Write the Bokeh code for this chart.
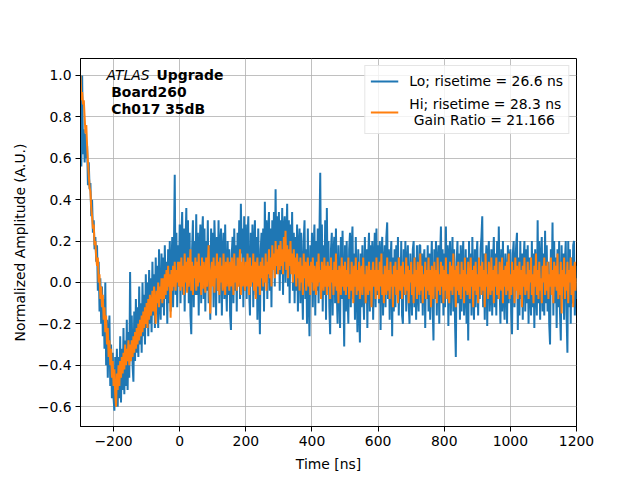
import numpy as np
from bokeh.plotting import figure
from bokeh.models import (Legend, LegendItem, Label, CustomJSTickFormatter,
                          FixedTicker, Range1d)
from bokeh.embed import file_html
from bokeh.resources import INLINE

# sampling grid of the waveform (ns)
T0 = -300.0
STEP = 2.5

# Lo-gain pulse, normalized amplitude, 50 ns per row
lo = [
    0.75, 0.56, 1.00, 0.62, 0.74, 0.58, 0.72, 0.60, 0.66, 0.47, 0.58, 0.45, 0.48, 0.32, 0.40, 0.24, 0.30, 0.16, 0.22, 0.10,
    0.18, -0.04, 0.10, -0.14, 0.02, -0.20, -0.02, -0.26, -0.08, -0.32, 0.00, -0.40, -0.18, -0.46, -0.24, -0.16, -0.50, -0.30, -0.56, -0.34,
    -0.56, -0.62, -0.36, -0.60, -0.32, -0.60, -0.36, -0.56, -0.26, -0.58, -0.32, -0.52, -0.22, -0.54, -0.28, -0.50, -0.18, -0.52, -0.24, -0.46,
    0.05, -0.36, -0.16, -0.40, -0.48, -0.14, -0.38, -0.08, -0.34, -0.12, -0.36, -0.02, -0.30, -0.10, -0.34, 0.00, -0.26, -0.06, -0.30, 0.04,
    -0.22, 0.00, -0.26, 0.06, -0.20, 0.02, -0.24, 0.10, -0.16, 0.04, -0.22, 0.12, -0.14, 0.08, -0.22, 0.16, -0.10, -0.18, 0.14, -0.12,
    0.12, -0.16, 0.18, -0.08, 0.10, -0.20, 0.16, -0.10, 0.20, -0.14, 0.08, 0.22, -0.12, 0.16, 0.52, -0.06, 0.24, -0.12, 0.18, -0.02,
    0.28, -0.10, 0.22, 0.34, -0.06, 0.26, -0.14, 0.18, 0.36, -0.04, 0.30, -0.10, 0.24, -0.16, -0.25, 0.16, 0.30, -0.12, 0.20, -0.06,
    0.33, -0.06, 0.24, -0.16, 0.16, 0.28, -0.10, 0.22, 0.32, -0.08, 0.26, -0.14, 0.20, -0.04, 0.30, -0.10, 0.18, -0.18, 0.26, 0.00,
    0.24, -0.12, 0.30, 0.14, -0.16, 0.22, -0.04, 0.30, -0.10, 0.18, 0.26, -0.16, 0.14, 0.24, -0.08, 0.28, 0.00, -0.14, 0.20, -0.06,
    0.16, -0.16, -0.23, 0.14, 0.22, -0.10, 0.26, -0.04, 0.18, -0.14, 0.24, 0.00, 0.30, -0.08, 0.38, 0.14, 0.26, -0.12, 0.32, -0.04,
    0.28, -0.08, 0.20, 0.32, -0.04, -0.16, 0.24, 0.02, 0.28, -0.12, 0.18, 0.30, -0.06, 0.22, -0.18, 0.26, 0.00, -0.25, 0.16, 0.24,
    -0.04, 0.26, -0.14, 0.39, 0.02, 0.30, -0.08, 0.24, 0.34, -0.04, 0.26, -0.12, 0.30, 0.06, 0.34, -0.02, 0.45, 0.04, 0.32, 0.08,
    0.34, -0.04, 0.30, 0.04, 0.36, -0.06, 0.26, 0.32, 0.00, 0.22, 0.38, -0.02, 0.30, -0.10, 0.28, 0.06, 0.34, -0.04, 0.24, -0.10,
    0.22, -0.04, 0.28, -0.14, 0.18, 0.26, -0.10, 0.24, 0.02, -0.18, 0.20, 0.30, -0.08, 0.16, -0.20, 0.26, -0.06, -0.26, 0.18, 0.00,
    0.24, -0.12, 0.16, 0.28, -0.16, 0.20, -0.04, 0.26, -0.10, 0.22, 0.53, 0.00, 0.28, -0.14, 0.18, -0.06, 0.30, -0.18, 0.36, -0.02,
    0.20, -0.12, -0.25, 0.16, 0.24, -0.16, 0.14, 0.22, -0.10, 0.26, -0.04, -0.20, 0.18, 0.00, -0.22, 0.22, -0.08, 0.25, -0.02, -0.31,
    0.18, -0.14, 0.20, -0.06, -0.20, 0.16, 0.24, -0.12, 0.18, 0.27, -0.08, 0.14, -0.18, 0.22, -0.02, -0.24, 0.16, -0.10, -0.29, 0.14,
    -0.12, 0.18, -0.04, -0.18, 0.22, -0.10, 0.16, -0.22, 0.12, 0.24, -0.14, 0.18, -0.08, 0.20, -0.18, 0.10, 0.24, -0.12, 0.26, -0.06,
    0.18, -0.10, 0.20, -0.23, 0.12, 0.22, -0.16, 0.08, 0.18, -0.12, 0.22, 0.29, -0.08, 0.16, -0.18, 0.10, 0.20, -0.26, 0.12, -0.14,
    0.16, -0.12, 0.18, -0.04, 0.22, -0.16, 0.12, -0.08, 0.20, -0.16, -0.20, 0.16, -0.06, 0.20, -0.14, 0.10, 0.18, -0.10, -0.20, 0.14,
    -0.02, -0.16, 0.16, 0.20, -0.12, 0.12, -0.18, 0.18, -0.04, -0.14, 0.18, 0.18, -0.10, 0.14, -0.16, 0.10, 0.16, -0.22, 0.12, -0.08,
    0.18, -0.14, 0.14, -0.18, 0.08, 0.20, -0.12, -0.28, 0.16, -0.08, 0.20, -0.16, 0.10, 0.18, -0.20, 0.12, 0.27, -0.10, 0.16, -0.16,
    0.14, -0.12, 0.27, -0.04, 0.18, -0.21, 0.12, 0.20, -0.16, 0.08, 0.22, -0.14, 0.16, -0.18, -0.36, 0.10, 0.20, -0.10, 0.14, -0.18,
    0.18, -0.14, 0.10, 0.20, -0.16, -0.04, 0.16, -0.20, 0.12, -0.28, 0.20, -0.10, 0.14, -0.16, 0.22, -0.02, -0.18, 0.16, -0.12, 0.12,
    0.20, -0.16, 0.10, -0.08, 0.16, 0.22, 0.32, -0.12, 0.14, -0.18, 0.06, 0.18, -0.21, 0.12, 0.20, -0.14, -0.04, 0.16, -0.16, 0.10,
    0.22, -0.12, 0.14, -0.16, 0.20, -0.08, 0.27, -0.02, -0.20, 0.16, -0.14, 0.20, -0.06, -0.18, 0.14, 0.02, -0.20, 0.18, -0.10, 0.12,
    0.16, -0.14, -0.25, 0.14, 0.20, -0.12, 0.08, 0.18, 0.24, -0.23, 0.12, -0.16, 0.20, -0.08, 0.14, -0.18, 0.10, 0.20, -0.14, 0.16,
    -0.10, 0.18, -0.20, 0.12, -0.04, -0.16, 0.20, -0.12, 0.14, -0.22, 0.16, -0.02, -0.16, 0.30, -0.10, 0.20, -0.18, 0.10, 0.22, -0.14,
    0.14, -0.16, 0.25, -0.10, 0.18, -0.14, 0.10, -0.20, -0.30, 0.16, -0.02, 0.29, -0.16, 0.20, -0.10, 0.12, -0.22, 0.16, -0.12, 0.20,
    -0.14, -0.28, 0.18, -0.08, 0.14, -0.18, 0.10, 0.20, -0.16, -0.34, 0.20, -0.12, 0.16, -0.20, 0.12, -0.10, 0.18, 0.20, -0.16, 0.08,
    -0.08,
]

# Hi-gain pulse, normalized amplitude, 50 ns per row
hi = [
    1.00, 0.88, 0.92, 0.86, 0.88, 0.80, 0.72, 0.76, 0.66, 0.58, 0.52, 0.46, 0.44, 0.36, 0.32, 0.26, 0.28, 0.18, 0.20, 0.12,
    0.08, 0.12, 0.00, 0.04, -0.08, -0.02, -0.12, -0.06, -0.18, -0.12, -0.24, -0.16, -0.30, -0.22, -0.36, -0.28, -0.40, -0.32, -0.46, -0.38,
    -0.50, -0.42, -0.54, -0.60, -0.44, -0.52, -0.40, -0.50, -0.38, -0.46, -0.36, -0.44, -0.34, -0.42, -0.30, -0.40, -0.32, -0.38, -0.28, -0.40,
    -0.30, -0.38, -0.28, -0.36, -0.26, -0.34, -0.24, -0.32, -0.22, -0.30, -0.20, -0.28, -0.18, -0.26, -0.16, -0.24, -0.14, -0.22, -0.12, -0.20,
    -0.10, -0.22, -0.08, -0.18, -0.06, -0.16, -0.12, -0.04, -0.14, -0.02, -0.12, -0.20, -0.04, -0.10, 0.00, -0.12, -0.02, -0.08, 0.02, -0.10,
    0.02, -0.08, 0.04, -0.06, 0.06, -0.04, 0.08, -0.02, 0.04, -0.17, 0.06, -0.04, 0.08, -0.02, 0.10, -0.04, 0.06, 0.00, 0.10, -0.02,
    0.10, -0.04, 0.12, -0.02, 0.08, -0.06, 0.14, 0.00, 0.10, -0.05, 0.12, -0.02, 0.06, 0.16, -0.04, 0.10, -0.06, 0.08, 0.02, 0.12,
    -0.04, 0.10, -0.02, 0.14, 0.00, 0.08, -0.06, 0.12, -0.03, 0.10, 0.04, -0.05, 0.12, -0.02, 0.08, 0.18, -0.04, -0.15, 0.06, 0.10,
    -0.02, 0.12, -0.05, 0.08, 0.02, 0.14, -0.04, 0.10, -0.06, 0.12, 0.00, 0.08, -0.04, 0.14, 0.02, -0.06, 0.10, -0.02, 0.12, 0.04,
    -0.04, 0.10, -0.02, 0.12, 0.04, -0.06, 0.14, 0.00, 0.08, -0.04, 0.12, -0.02, 0.06, 0.16, -0.06, 0.10, -0.02, 0.12, 0.02, -0.04,
    0.10, -0.02, 0.14, 0.04, -0.06, 0.12, -0.02, 0.08, 0.00, 0.14, -0.04, 0.10, -0.08, 0.06, 0.12, -0.02, 0.08, -0.06, 0.10, 0.02,
    0.12, -0.02, 0.08, 0.00, 0.14, -0.04, 0.10, 0.04, 0.16, 0.02, 0.12, -0.02, 0.18, 0.06, 0.14, 0.02, 0.20, 0.08, 0.16, 0.04,
    0.18, 0.06, 0.20, 0.08, 0.16, 0.04, 0.22, 0.10, 0.25, 0.06, 0.18, 0.02, 0.16, 0.08, 0.20, 0.04, 0.14, 0.00, 0.16, 0.04,
    0.12, -0.02, 0.14, 0.02, 0.10, -0.04, 0.12, 0.00, 0.08, -0.06, 0.14, 0.02, 0.10, -0.04, 0.06, 0.12, -0.02, 0.08, -0.06, 0.10,
    0.00, 0.12, -0.04, 0.08, 0.02, -0.06, 0.10, -0.02, 0.14, 0.00, 0.06, -0.08, 0.10, 0.02, -0.04, 0.12, -0.02, 0.08, -0.06, 0.10,
    -0.02, 0.08, -0.08, 0.12, 0.00, 0.06, -0.06, 0.10, -0.02, 0.14, -0.04, 0.06, -0.10, 0.08, 0.02, -0.06, 0.12, -0.02, 0.08, -0.04,
    0.10, -0.06, 0.06, -0.02, 0.12, -0.08, 0.04, -0.04, 0.10, 0.00, -0.10, 0.08, -0.02, 0.12, -0.06, 0.06, -0.04, 0.10, -0.08, 0.04,
    0.08, -0.06, 0.12, -0.02, 0.04, -0.10, 0.08, 0.00, -0.06, 0.10, -0.04, 0.06, -0.12, 0.04, 0.10, -0.02, 0.06, -0.08, 0.12, -0.04,
    0.06, -0.08, 0.10, -0.02, 0.14, -0.06, 0.04, -0.10, 0.08, 0.00, -0.06, 0.12, -0.04, 0.06, -0.08, 0.10, -0.02, 0.04, -0.12, 0.08,
    -0.02, 0.10, -0.06, 0.06, -0.10, 0.12, 0.00, -0.04, 0.08, -0.08, 0.10, -0.02, 0.04, -0.06, 0.12, -0.04, 0.08, -0.10, 0.06, 0.00,
    0.10, -0.06, 0.04, -0.10, 0.12, -0.02, 0.06, -0.08, 0.10, 0.00, -0.06, 0.14, -0.04, 0.08, -0.10, 0.04, -0.02, 0.10, -0.08, 0.06,
    -0.04, 0.12, -0.06, 0.06, -0.12, 0.08, 0.00, -0.08, 0.10, -0.02, 0.06, -0.10, 0.12, -0.04, 0.04, -0.06, 0.10, -0.02, 0.08, -0.10,
    0.06, -0.04, 0.12, -0.08, 0.04, 0.00, -0.10, 0.10, -0.04, 0.08, -0.06, 0.14, -0.02, 0.06, -0.12, 0.08, -0.04, 0.10, -0.06, 0.04,
    -0.08, 0.10, -0.02, 0.06, -0.10, 0.12, -0.04, 0.04, -0.06, 0.10, 0.00, -0.08, 0.12, -0.02, 0.06, -0.12, 0.08, -0.04, 0.10, -0.06,
    0.04, -0.10, 0.12, -0.02, 0.08, -0.06, 0.10, -0.04, 0.06, -0.12, 0.14, -0.02, 0.04, -0.08, 0.10, 0.00, -0.06, 0.12, -0.04, 0.06,
    -0.10, 0.08, -0.02, 0.12, -0.06, 0.04, -0.08, 0.10, 0.00, -0.04, 0.12, -0.10, 0.06, -0.02, 0.08, -0.06, 0.10, -0.04, 0.14, -0.08,
    0.04, -0.06, 0.10, -0.02, 0.06, -0.10, 0.12, -0.04, 0.08, -0.08, 0.02, 0.10, -0.06, 0.06, -0.12, 0.08, -0.02, 0.12, -0.06, 0.04,
    -0.04, 0.10, -0.08, 0.06, 0.00, 0.12, -0.06, 0.04, -0.10, 0.08, -0.02, 0.14, -0.06, 0.06, -0.08, 0.10, -0.04, 0.02, -0.10, 0.08,
    0.00, 0.12, -0.06, 0.08, -0.04, 0.10, -0.08, 0.04, -0.02, 0.12, -0.06, 0.06, -0.10, 0.10, -0.02, 0.08, -0.04, 0.14, -0.08, 0.04,
    -0.06, 0.10, -0.15, 0.06, -0.02, 0.12, -0.08, 0.04, -0.04, 0.10, -0.10, 0.06, 0.00, 0.12, -0.06, 0.08, -0.12, 0.04, 0.10, -0.04,
    0.02,
]

x_ticks = [-200, 0, 200, 400, 600, 800, 1000, 1200]
y_ticks = [-0.6, -0.4, -0.2, 0.0, 0.2, 0.4, 0.6, 0.8, 1.0]

lo_label = "Lo; risetime = 26.6 ns"
hi_label = "Hi; risetime = 28.3 ns\n Gain Ratio = 21.166"

t_lo = T0 + STEP * np.arange(len(lo))
t_hi = T0 + STEP * np.arange(len(hi))

FONT = "DejaVu Sans"
FS = "13.9px"

p = figure(width=624, height=474, output_backend="svg", toolbar_location=None,
           x_range=Range1d(-300, 1200), y_range=Range1d(-0.696, 1.082),
           min_border_left=80, min_border_right=48, min_border_top=58,
           min_border_bottom=47, background_fill_color="white",
           border_fill_color="white")

r1 = p.line(t_lo, lo, line_color="#1f77b4", line_width=2)
r2 = p.line(t_hi, hi, line_color="#ff7f0e", line_width=2)

p.xaxis.ticker = FixedTicker(ticks=x_ticks)
p.yaxis.ticker = FixedTicker(ticks=y_ticks)
p.xaxis.formatter = CustomJSTickFormatter(code="return tick.toFixed(0).replace('-', '\\u2212');")
p.yaxis.formatter = CustomJSTickFormatter(code="return tick.toFixed(1).replace('-', '\\u2212');")
p.xaxis.axis_label = "Time [ns]"
p.yaxis.axis_label = "Normalized Amplitude (A.U.)"

for ax in (p.xaxis, p.yaxis):
    ax.axis_label_text_font = FONT
    ax.axis_label_text_font_size = FS
    ax.axis_label_text_font_style = "normal"
    ax.axis_label_text_color = "black"
    ax.major_label_text_font = FONT
    ax.major_label_text_font_size = FS
    ax.major_label_text_color = "black"
    ax.major_tick_in = 0
    ax.major_tick_out = 5
    ax.minor_tick_in = 0
    ax.minor_tick_out = 0
    ax.major_tick_line_color = "black"
    ax.axis_line_color = "black"
    ax.major_label_standoff = 4
    ax.axis_label_standoff = 7

p.outline_line_color = "black"
p.outline_line_width = 1
p.grid.grid_line_color = "#b0b0b0"
p.grid.grid_line_width = 0.8

legend = Legend(items=[LegendItem(label=lo_label, renderers=[r1]),
                       LegendItem(label=hi_label, renderers=[r2])],
                location="top_right")
legend.label_text_font = FONT
legend.label_text_font_size = FS
legend.label_text_color = "black"
legend.border_line_color = "#cccccc"
legend.background_fill_alpha = 0.8
legend.glyph_width = 28
legend.label_standoff = 11
legend.padding = 5
legend.spacing = 5
legend.margin = 7
p.add_layout(legend)

for txt, lx, ly, style in [("ATLAS", -221, 1.003, "italic"),
                           ("Upgrade", -70, 1.003, "bold"),
                           ("Board260", -207, 0.92, "bold"),
                           ("Ch017 35dB", -207, 0.84, "bold")]:
    p.add_layout(Label(x=lx, y=ly, text=txt, text_font=FONT,
                       text_font_size=FS, text_font_style=style,
                       text_color="black", text_baseline="middle"))

open("out.html", "w", encoding="utf-8").write(file_html(p, INLINE))
